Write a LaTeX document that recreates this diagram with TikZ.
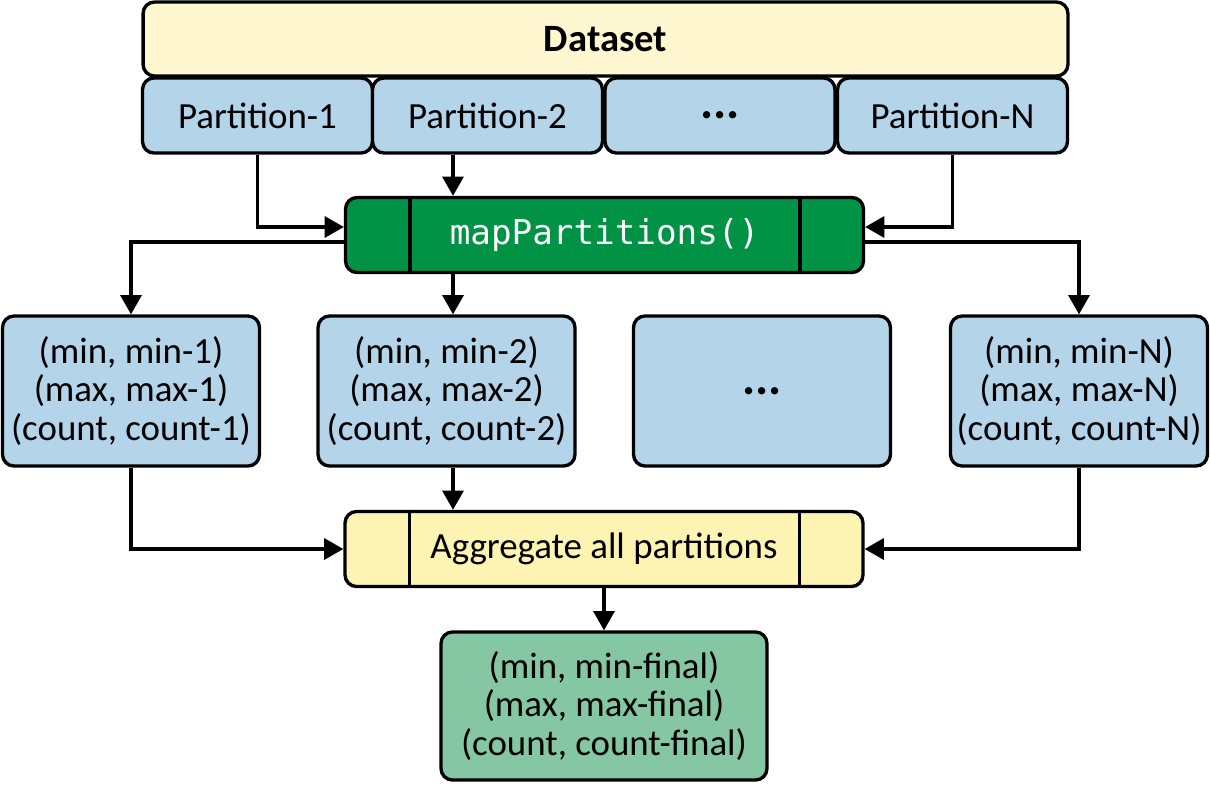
\documentclass[tikz,border=0pt]{standalone}
\usepackage{fontspec}
\setmainfont{Carlito}
\setmonofont{DejaVu Sans Mono}
\usetikzlibrary{positioning}
\usetikzlibrary{calc}
\usetikzlibrary{arrows.meta}
\definecolor{dsyellow}{HTML}{FEF7CF}
\definecolor{agyellow}{HTML}{FDF3B3}
\definecolor{ptblue}{HTML}{B3D4E9}
\definecolor{mpgreen}{HTML}{009245}
\definecolor{fngreen}{HTML}{85C7A2}
\tikzset{%
  flow/.style = {-{Triangle[length=11pt,width=12pt]},line width=1.9pt},
  b/.style = {rectangle,draw,line width=1.9pt,rounded corners=6.5pt,
        inner sep=0pt,align=center,
        font=\fontsize{21}{22}\selectfont},
  dots/.style = {font=\fontsize{28}{22}\selectfont\bfseries},
  p/.style = {b,fill=ptblue,minimum width=4.6cm,minimum height=1.5cm},
  r/.style = {b,fill=ptblue,minimum width=5.14cm,minimum height=3cm},
  op/.style = {b,minimum width=10.36cm,minimum height=1.5cm}
}

\begin{document}
\begin{tikzpicture}[x=0.02cm,y=-0.02cm]
    \useasboundingbox (0,0) rectangle (1210,785);
    \node[b,fill=dsyellow,minimum width=18.5cm,minimum height=1.48cm,
        font=\fontsize{22}{22}\selectfont\bfseries] (ds) at (605.5,39) {Dataset};
    \node[p] (part1) at (257.5,115.5) {Partition-1};
    \node[p] (part2) at (487.5,115.5) {Partition-2};
    \node[p,dots] (part3) at (720,115.5) {...};
    \node[p] (partN) at (952.5,115.5) {Partition-N};
    \coordinate (colB) at (453,0);
    % map step
    \node[op,fill=mpgreen,text=white,font=\fontsize{19.5}{22}\ttfamily] (map) at (604.5,235) {mapPartitions()};
    \draw[line width=1.9pt] ($(map.north west)+(66,0)$) -- ($(map.south west)+(66,0)$);
    \draw[line width=1.9pt] ($(map.north east)+(-65,0)$) -- ($(map.south east)+(-65,0)$);
    \draw[flow] (part1.south) |- ($(map.west)+(0,-8)$);
    \draw[flow] (part2.south -| colB) -- (map.north -| colB);
    \draw[flow] (partN.south) |- ($(map.east)+(0,-8)$);
    % per partition results
    \node[r] (res1) at (131,391) {(min, min-1)\\(max, max-1)\\(count, count-1)};
    \node[r] (res2) at (446.5,391) {(min, min-2)\\(max, max-2)\\(count, count-2)};
    \node[r,dots] (res3) at (762,391) {...};
    \node[r] (resN) at (1079,391) {(min, min-N)\\(max, max-N)\\(count, count-N)};
    \draw[flow] ($(map.west)+(0,7)$) -| (res1.north);
    \draw[flow] (map.south -| colB) -- (res2.north -| colB);
    \draw[flow] ($(map.east)+(0,7)$) -| (resN.north);
    % aggregate step
    \node[op,fill=agyellow] (agg) at (604,549) {Aggregate all partitions};
    \draw[line width=1.9pt] ($(agg.north west)+(66,0)$) -- ($(agg.south west)+(66,0)$);
    \draw[line width=1.9pt] ($(agg.north east)+(-65,0)$) -- ($(agg.south east)+(-65,0)$);
    \draw[flow] (res1.south) |- (agg.west);
    \draw[flow] (res2.south -| colB) -- (agg.north -| colB);
    \draw[flow] (resN.south) |- (agg.east);
    \node[b,fill=fngreen,minimum width=6.52cm,minimum height=2.96cm] (final) at (604,706)
        {(min, min-final)\\(max, max-final)\\(count, count-final)};
    \draw[flow] (agg.south) -- (final.north);
\end{tikzpicture}
\end{document}
